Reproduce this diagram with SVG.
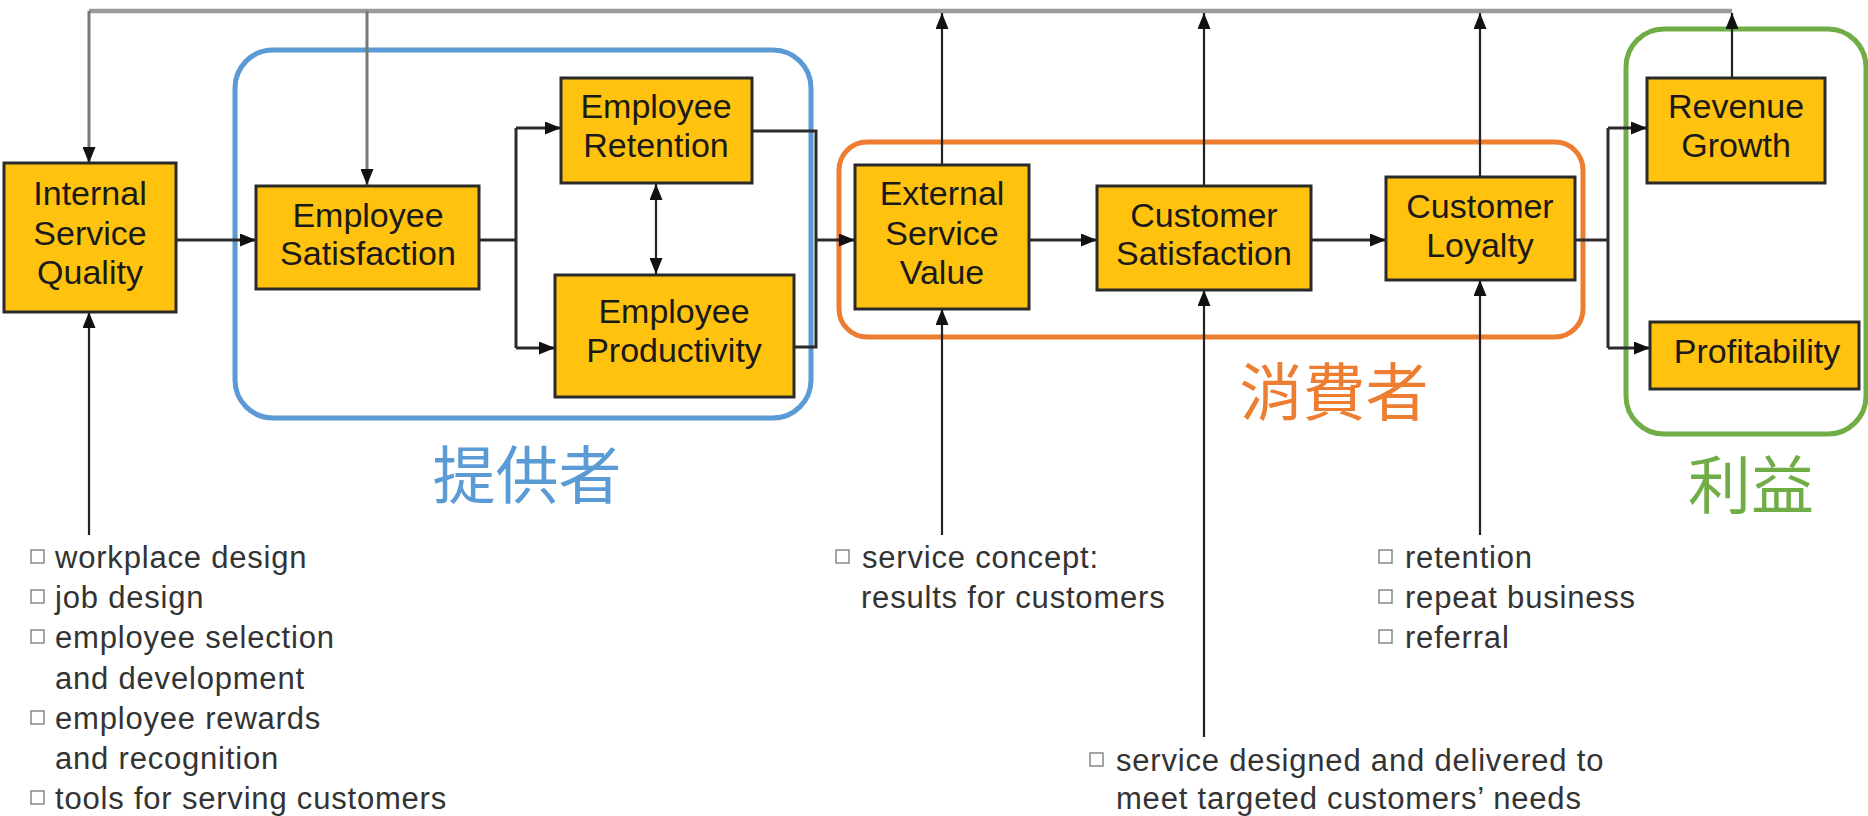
<svg xmlns="http://www.w3.org/2000/svg" width="1868" height="816" viewBox="0 0 1868 816">
<style>
.box{fill:#FFC20F;stroke:#2a2a2a;stroke-width:3}
.bt{font-family:"Liberation Sans",Arial,sans-serif;font-size:34px;fill:#1a1a1a;text-anchor:middle}
.li{font-family:"Liberation Sans",Arial,sans-serif;font-size:31px;fill:#333;letter-spacing:0.8px}
.sq{fill:#fff;stroke:#888;stroke-width:1.5}
.c{fill:none;stroke:#2b2b2b;stroke-width:3}
.f{fill:none;stroke:#222;stroke-width:2.2}
.g{fill:none;stroke:#777;stroke-width:3}
.bus{fill:none;stroke:#9a9a9a;stroke-width:4.5}
.grp{fill:none;stroke-width:5}
.cjk{font-family:"Noto Sans CJK TC","Noto Sans CJK SC",sans-serif;font-size:63px;text-anchor:middle}
</style>
<defs>
<marker id="ah" viewBox="0 0 16 13" refX="16" refY="6.5" markerWidth="16" markerHeight="13" markerUnits="userSpaceOnUse" orient="auto-start-reverse">
<path d="M0,0 L16,6.5 L0,13 z" fill="#111"/>
</marker>
</defs>
<rect width="1868" height="816" fill="#fff"/>

<g id="groups">
<rect id="provider-group" class="grp" x="235" y="50" width="576" height="368" rx="38" stroke="#5B9BD5"/>
<rect id="consumer-group" class="grp" x="839" y="142" width="744" height="195" rx="28" stroke="#ED7D31"/>
<rect id="profit-group" class="grp" x="1626" y="29" width="240" height="405" rx="38" stroke="#70AD47"/>
</g>

<g id="connectors">
<path class="bus" d="M89,11 H1732"/>
<path class="g" d="M89,11 V163" marker-end="url(#ah)"/>
<path class="g" d="M367,11 V185" marker-end="url(#ah)"/>
<path class="f" d="M942,165 V13" marker-end="url(#ah)"/>
<path class="f" d="M1204,186 V13" marker-end="url(#ah)"/>
<path class="f" d="M1480,177 V13" marker-end="url(#ah)"/>
<path class="f" d="M1732,77 V13" marker-end="url(#ah)"/>
<path class="c" d="M176,240 H256" marker-end="url(#ah)"/>
<path class="c" d="M479,240 H516"/>
<path class="c" d="M516,128 V348"/>
<path class="c" d="M516,128 H561" marker-end="url(#ah)"/>
<path class="c" d="M516,348 H555" marker-end="url(#ah)"/>
<path class="f" d="M656,184 V274" marker-start="url(#ah)" marker-end="url(#ah)"/>
<path class="c" d="M752,131 H816 V347 H794"/>
<path class="c" d="M816,240 H855" marker-end="url(#ah)"/>
<path class="c" d="M1029,240 H1097" marker-end="url(#ah)"/>
<path class="c" d="M1311,240 H1386" marker-end="url(#ah)"/>
<path class="c" d="M1575,240 H1608"/>
<path class="c" d="M1608,128 V348"/>
<path class="c" d="M1608,128 H1647" marker-end="url(#ah)"/>
<path class="c" d="M1608,348 H1650" marker-end="url(#ah)"/>
<path class="f" d="M89,535 V312" marker-end="url(#ah)"/>
<path class="f" d="M942,535 V309" marker-end="url(#ah)"/>
<path class="f" d="M1204,737 V290" marker-end="url(#ah)"/>
<path class="f" d="M1480,535 V280" marker-end="url(#ah)"/>
</g>

<g id="internal-service-quality">
<rect class="box" x="4" y="163" width="172" height="149"/>
<text class="bt" x="90" y="205">Internal</text>
<text class="bt" x="90" y="245">Service</text>
<text class="bt" x="90" y="284">Quality</text>
</g>
<g id="employee-satisfaction">
<rect class="box" x="256" y="186" width="223" height="103"/>
<text class="bt" x="368" y="227">Employee</text>
<text class="bt" x="368" y="265">Satisfaction</text>
</g>
<g id="employee-retention">
<rect class="box" x="561" y="78" width="191" height="105"/>
<text class="bt" x="656" y="118">Employee</text>
<text class="bt" x="656" y="157">Retention</text>
</g>
<g id="employee-productivity">
<rect class="box" x="555" y="275" width="239" height="122"/>
<text class="bt" x="674" y="323">Employee</text>
<text class="bt" x="674" y="362">Productivity</text>
</g>
<g id="external-service-value">
<rect class="box" x="855" y="165" width="174" height="144"/>
<text class="bt" x="942" y="205">External</text>
<text class="bt" x="942" y="245">Service</text>
<text class="bt" x="942" y="284">Value</text>
</g>
<g id="customer-satisfaction">
<rect class="box" x="1097" y="186" width="214" height="104"/>
<text class="bt" x="1204" y="227">Customer</text>
<text class="bt" x="1204" y="265">Satisfaction</text>
</g>
<g id="customer-loyalty">
<rect class="box" x="1386" y="177" width="189" height="103"/>
<text class="bt" x="1480" y="218">Customer</text>
<text class="bt" x="1480" y="257">Loyalty</text>
</g>
<g id="revenue-growth">
<rect class="box" x="1647" y="78" width="178" height="105"/>
<text class="bt" x="1736" y="118">Revenue</text>
<text class="bt" x="1736" y="157">Growth</text>
</g>
<g id="profitability">
<rect class="box" x="1650" y="322" width="209" height="67"/>
<text class="bt" x="1757" y="363">Profitability</text>
</g>

<g id="labels">
<text class="cjk" x="527" y="498" fill="#5B9BD5">提供者</text>
<text class="cjk" x="1334" y="415" fill="#ED7D31">消費者</text>
<text class="cjk" x="1751" y="508" fill="#70AD47">利益</text>
</g>

<g id="list-internal">
<rect class="sq" x="31" y="550" width="13" height="13"/>
<text class="li" x="55" y="568">workplace design</text>
<rect class="sq" x="31" y="590" width="13" height="13"/>
<text class="li" x="55" y="608">job design</text>
<rect class="sq" x="31" y="630" width="13" height="13"/>
<text class="li" x="55" y="648">employee selection</text>
<text class="li" x="55" y="689">and development</text>
<rect class="sq" x="31" y="711" width="13" height="13"/>
<text class="li" x="55" y="729">employee rewards</text>
<text class="li" x="55" y="769">and recognition</text>
<rect class="sq" x="31" y="791" width="13" height="13"/>
<text class="li" x="55" y="809">tools for serving customers</text>
</g>
<g id="list-service-concept">
<rect class="sq" x="836" y="550" width="13" height="13"/>
<text class="li" x="862" y="568">service concept:</text>
<text class="li" x="861" y="608">results for customers</text>
</g>
<g id="list-loyalty">
<rect class="sq" x="1379" y="550" width="13" height="13"/>
<text class="li" x="1405" y="568">retention</text>
<rect class="sq" x="1379" y="590" width="13" height="13"/>
<text class="li" x="1405" y="608">repeat business</text>
<rect class="sq" x="1379" y="630" width="13" height="13"/>
<text class="li" x="1405" y="648">referral</text>
</g>
<g id="list-service-design">
<rect class="sq" x="1090" y="753" width="13" height="13"/>
<text class="li" x="1116" y="771">service designed and delivered to</text>
<text class="li" x="1116" y="809">meet targeted customers’ needs</text>
</g>
</svg>
